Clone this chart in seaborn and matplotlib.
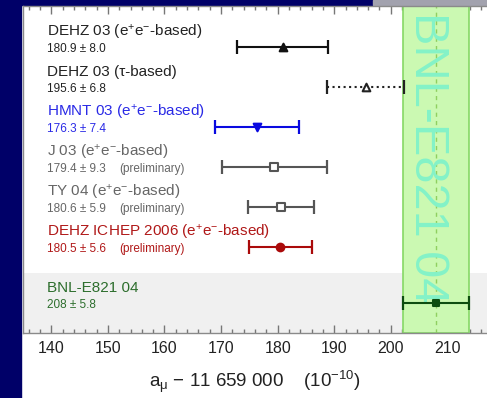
import numpy as np
import pandas as pd
import matplotlib
matplotlib.use("Agg")
import matplotlib.pyplot as plt
from matplotlib.patches import Rectangle
from matplotlib.ticker import MultipleLocator
import seaborn as sns

# Muon g-2 determinations: a_mu - 11 659 000, in units of 1e-10
labels = [
    r"DEHZ 03 (e$^{+}$e$^{-}$-based)",
    "DEHZ 03 (\u03c4-based)",
    r"HMNT 03 (e$^{+}$e$^{-}$-based)",
    r"J 03 (e$^{+}$e$^{-}$-based)",
    r"TY 04 (e$^{+}$e$^{-}$-based)",
    r"DEHZ ICHEP 2006 (e$^{+}$e$^{-}$-based)",
    "BNL-E821 04",
]
centers = [180.9, 195.6, 176.3, 179.4, 180.6, 180.5, 208.0]
errors = [8.0, 6.8, 7.4, 9.3, 5.9, 5.6, 5.8]
preliminary = [False, False, False, True, True, True, False]
xticks = [140, 150, 160, 170, 180, 190, 200, 210]

sns.set_theme(style="white")
plt.rcParams["font.family"] = ["Liberation Sans", "DejaVu Sans"]
plt.rcParams["mathtext.fontset"] = "custom"
plt.rcParams["mathtext.rm"] = "Liberation Sans"
plt.rcParams["mathtext.it"] = "Liberation Sans"
plt.rcParams["mathtext.bf"] = "Liberation Sans:bold"

# per-row styling: marker, filled?, line colour, text colour, line style
markers = ["^", "^", "v", "s", "s", "o", "s"]
filled = [True, False, True, False, False, True, True]
line_colors = ["#111111", "#222222", "#0a0ae0", "#555555", "#555555", "#aa0a0a", "#0d4d10"]
text_colors = ["#222222", "#222222", "#2a2ae6", "#666666", "#666666", "#b01818", "#2d6e2d"]
line_styles = ["-", ":", "-", "-", "-", "-", "-"]
marker_sizes = [5.5, 5.5, 5.5, 6, 6, 5.5, 5]

n = len(centers)
ypos = np.arange(n, dtype=float)
ypos[-1] += 0.39  # extra gap before the direct measurement

df = pd.DataFrame({"label": labels, "center": centers, "err": errors, "y": ypos})

W, H = 487, 398
fig = plt.figure(figsize=(W / 100, H / 100), dpi=100, facecolor="white")
ax = fig.add_axes([23 / W, 1 - 333 / H, 1 - 23 / W, (333 - 5.5) / H])

# slide frame
navy = "#000068"
fig.patches.append(Rectangle((0, 0), 21 / W, 1, transform=fig.transFigure,
                             color=navy, zorder=-10))
fig.patches.append(Rectangle((0, 1 - 5 / H), 373 / W, 5 / H, transform=fig.transFigure,
                             color=navy, zorder=-10))
fig.patches.append(Rectangle((373 / W, 1 - 5 / H), 1 - 373 / W, 5 / H,
                             transform=fig.transFigure, color="#a2a2ae", zorder=-10))

ax.set_xlim(135, 217)
ax.set_ylim(7.15, -1.04)

# shaded background for the experimental row
ax.axhspan(5.66, 7.15, color="#f0f0f0", zorder=0, lw=0)

# experimental band
bnl_c, bnl_e = centers[-1], errors[-1]
ax.axvspan(bnl_c - bnl_e, bnl_c + bnl_e, facecolor="#cbf9b2", edgecolor="#86d866",
           lw=1.2, zorder=1)
ax.axvline(bnl_c, color="#8fd060", lw=1.0, ls=(0, (3, 3)), zorder=2)
ax.text(206.4, -0.875, "BNL-E821 04", rotation=270, ha="center", va="top",
        fontsize=35, color="#84f2c8", zorder=2)

for i, row in df.iterrows():
    eb = ax.errorbar(row["center"], row["y"], xerr=row["err"], fmt="none",
                     ecolor=line_colors[i], elinewidth=1.5, capsize=5, capthick=1.6,
                     zorder=4)
    eb[2][0].set_linestyle(line_styles[i])
    face = line_colors[i] if filled[i] else "white"
    sns.scatterplot(x=[row["center"]], y=[row["y"]], marker=markers[i], s=marker_sizes[i] ** 2,
                    color=face, edgecolor=line_colors[i], linewidth=1.5, ax=ax, zorder=5,
                    legend=False)

    ax.text(139.3, row["y"] - 0.37, row["label"], fontsize=11, color=text_colors[i],
            ha="left", va="center", zorder=6)
    ax.text(139.3, row["y"] + 0.05, f"{row['center']:g} \u00b1 {row['err']:.1f}",
            fontsize=8.5, color=text_colors[i], ha="left", va="center", zorder=6)
    if preliminary[i]:
        ax.text(152.0, row["y"] + 0.05, "(preliminary)", fontsize=8.5,
                color=text_colors[i], ha="left", va="center", zorder=6)

# axes styling
for side in ["left", "top", "bottom"]:
    ax.spines[side].set_color("#8a8a8a")
    ax.spines[side].set_linewidth(1.0)
ax.spines["right"].set_visible(False)
ax.set_yticks([])
ax.set_ylabel("")
ax.set_xticks(xticks)
ax.xaxis.set_minor_locator(MultipleLocator(2))
ax.tick_params(axis="x", which="both", direction="in", top=True, bottom=True,
               color="#777777", labelcolor="#222222", labelsize=11.5, pad=6)
ax.tick_params(axis="x", which="major", length=5.5, width=1.0)
ax.tick_params(axis="x", which="minor", length=3, width=1.0)
ax.set_xlabel(r"a$_{\mu}$ $-$ 11 659 000    (10$^{-10}$)", fontsize=13.5,
              color="#222222", labelpad=9)
ax.set_facecolor("white")

fig.savefig("out.png", dpi=100, facecolor="white")
